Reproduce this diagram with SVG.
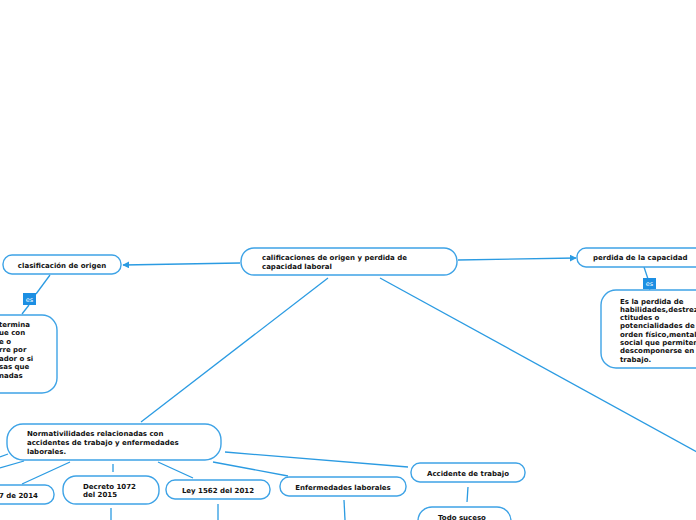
<svg xmlns="http://www.w3.org/2000/svg" width="696" height="520" viewBox="0 0 696 520">
<style>
.n{fill:#fff;stroke:#3ea3e6;stroke-width:1.4}
.t{font-family:"DejaVu Sans",Verdana,sans-serif;font-weight:bold;font-size:7px;fill:#111}
.c{stroke:#2b9be2;stroke-width:1.3;fill:none}
.lb{fill:#1c8fe3}
.lt{font-family:"DejaVu Sans",sans-serif;font-size:6.5px;fill:#fff}
</style>
<defs>
<marker id="ah" viewBox="0 0 10 10" refX="9" refY="5" markerWidth="7" markerHeight="7" orient="auto" markerUnits="userSpaceOnUse">
<path d="M0,0 L10,5 L0,10 z" fill="#2b9be2"/>
</marker>
</defs>
<rect width="696" height="520" fill="#fff"/>
<g id="connectors">
<line class="c" x1="240" y1="263" x2="123" y2="265" marker-end="url(#ah)"/>
<line class="c" x1="458" y1="260" x2="576" y2="258" marker-end="url(#ah)"/>
<line class="c" x1="50" y1="275" x2="36" y2="294"/>
<line class="c" x1="29" y1="305" x2="22" y2="314"/>
<line class="c" x1="644" y1="267" x2="648" y2="279"/>
<line class="c" x1="649" y1="288" x2="650" y2="290"/>
<line class="c" x1="328" y1="278" x2="141" y2="422"/>
<line class="c" x1="380" y1="278" x2="697" y2="452"/>
<line class="c" x1="0" y1="457" x2="8" y2="454"/>
<line class="c" x1="0" y1="468" x2="24" y2="461"/>
<line class="c" x1="22" y1="484" x2="70" y2="462"/>
<line class="c" x1="113" y1="464" x2="113" y2="472"/>
<line class="c" x1="158" y1="462" x2="193" y2="478"/>
<line class="c" x1="213" y1="462" x2="288" y2="476"/>
<line class="c" x1="225" y1="452" x2="408" y2="467"/>
<line class="c" x1="111" y1="508" x2="111" y2="520"/>
<line class="c" x1="218" y1="504" x2="218" y2="520"/>
<line class="c" x1="344" y1="500" x2="345" y2="520"/>
<line class="c" x1="468" y1="487" x2="467" y2="502"/>
</g>
<g id="lbl-es-left">
<rect class="lb" x="23" y="293" width="13" height="12"/>
<text class="lt" x="29.5" y="301.5" text-anchor="middle">es</text>
</g>
<g id="lbl-es-right">
<rect class="lb" x="643" y="278" width="13" height="11"/>
<text class="lt" x="649.5" y="286" text-anchor="middle">es</text>
</g>
<g id="central">
<rect class="n" x="241" y="248" width="216" height="27" rx="13"/>
<text class="t" x="262" y="259.5">calificaciones de origen y perdida de</text>
<text class="t" x="262" y="268.5">capacidad laboral</text>
</g>
<g id="clasificacion">
<rect class="n" x="3" y="255" width="118" height="19" rx="9"/>
<text class="t" x="62" y="267.5" text-anchor="middle">clasificación de origen</text>
</g>
<g id="clasif-def">
<rect class="n" x="-60" y="315" width="117" height="78" rx="15"/>
<text class="t" x="-1" y="326.5">termina</text>
<text class="t" x="-1" y="335">ue con</text>
<text class="t" x="-1" y="343.5">e o</text>
<text class="t" x="-1" y="352">rre por</text>
<text class="t" x="-1" y="360.5">ador o si</text>
<text class="t" x="-1" y="369">sas que</text>
<text class="t" x="-1" y="377.5">nadas</text>
</g>
<g id="perdida">
<rect class="n" x="577" y="248" width="140" height="19" rx="9"/>
<text class="t" x="593" y="260">perdida de la capacidad</text>
</g>
<g id="perdida-def">
<rect class="n" x="601" y="290" width="130" height="78" rx="15"/>
<text class="t" x="620" y="303.5">Es la perdida de</text>
<text class="t" x="620" y="311.8">habilidades,destrez</text>
<text class="t" x="620" y="320.1">ctitudes o</text>
<text class="t" x="620" y="328.4">potencialidades de</text>
<text class="t" x="620" y="336.7">orden físico,mental</text>
<text class="t" x="620" y="345">social que permiten</text>
<text class="t" x="620" y="353.3">descomponerse en</text>
<text class="t" x="620" y="361.6">trabajo.</text>
</g>
<g id="normatividades">
<rect class="n" x="7" y="424" width="214" height="36" rx="16"/>
<text class="t" x="27" y="436">Normativilidades relacionadas con</text>
<text class="t" x="27" y="445">accidentes de trabajo y enfermedades</text>
<text class="t" x="27" y="454">laborales.</text>
</g>
<g id="n2014">
<rect class="n" x="-40" y="485" width="94" height="19" rx="9"/>
<text class="t" x="38" y="497.5" text-anchor="end">7 de 2014</text>
</g>
<g id="decreto">
<rect class="n" x="63" y="476" width="96" height="28" rx="13"/>
<text class="t" x="83" y="489">Decreto 1072</text>
<text class="t" x="83" y="497">del 2015</text>
</g>
<g id="ley">
<rect class="n" x="166" y="480" width="104" height="19" rx="9"/>
<text class="t" x="218" y="492.5" text-anchor="middle">Ley 1562 del 2012</text>
</g>
<g id="enfermedades">
<rect class="n" x="280" y="477" width="126" height="19" rx="9"/>
<text class="t" x="343" y="489.5" text-anchor="middle">Enfermedades laborales</text>
</g>
<g id="accidente">
<rect class="n" x="411" y="463" width="114" height="19" rx="9"/>
<text class="t" x="468" y="476" text-anchor="middle">Accidente de trabajo</text>
</g>
<g id="todo-suceso">
<rect class="n" x="418" y="507" width="93" height="40" rx="14"/>
<text class="t" x="438" y="520">Todo suceso</text>
</g>
</svg>
